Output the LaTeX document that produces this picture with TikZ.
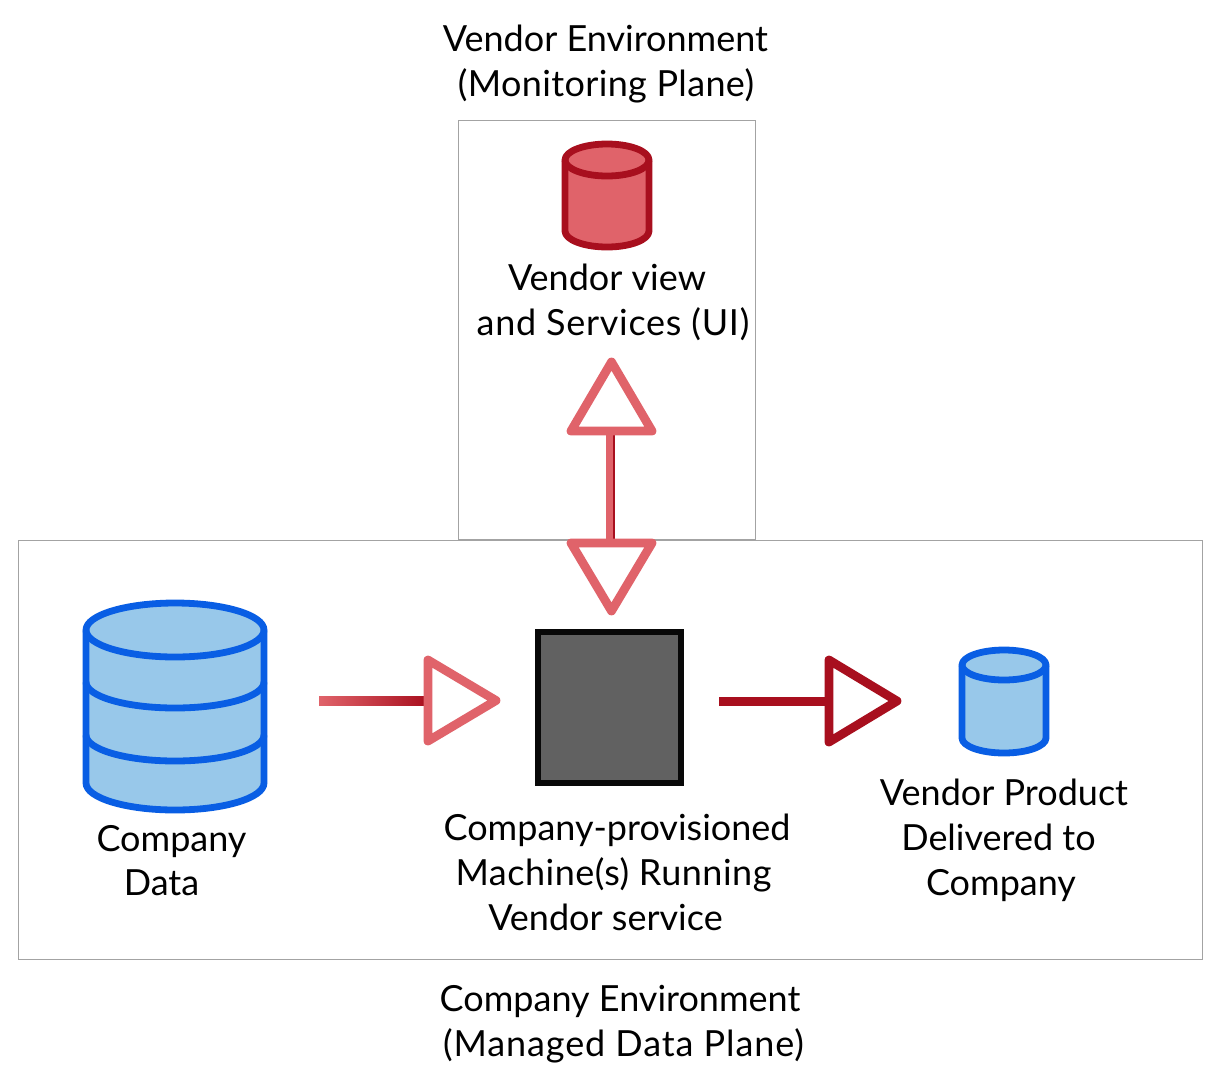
\documentclass[tikz,border=0pt]{standalone}
\usepackage{fontspec}
\setmainfont{Lato}
\definecolor{redlight}{HTML}{E0636A}
\definecolor{reddark}{HTML}{A80F1E}
\definecolor{bluefill}{HTML}{98C8EA}
\definecolor{blueline}{HTML}{095EE4}
\definecolor{framegray}{HTML}{A3A3A3}
\definecolor{machinefill}{HTML}{616161}
\newcommand{\spaced}[2]{{\addfontfeature{LetterSpace=#1}#2}}
\tikzset{
  x=0.5pt,y=-0.5pt,
  frame/.style={draw=framegray,line width=0.5pt},
  lbl/.style={anchor=base,inner sep=0pt,font=\fontsize{18}{22}\selectfont},
  bluecyl/.style={draw=blueline,fill=bluefill,line width=3.4pt,line join=round},
  redcyl/.style={draw=reddark,fill=redlight,line width=3.4pt,line join=round},
  headlight/.style={draw=redlight,fill=white,line width=4.4pt,line join=round},
  headdark/.style={draw=reddark,fill=white,line width=4.4pt,line join=round},
  machine/.style={draw=black!97,fill=machinefill,line width=3pt,minimum width=71.5pt,minimum height=75.5pt,inner sep=0pt}
}
% #1 centre x, #2 rx, #3 top-ellipse y, #4 bottom-ellipse y, #5 ry
\newcommand{\cyl}[6]{%
  \path[#6] (#1-#2,#3) arc[start angle=180,end angle=0,x radius=#2*0.5pt,y radius=#5*0.5pt]
    -- (#1+#2,#4) arc[start angle=0,end angle=-180,x radius=#2*0.5pt,y radius=#5*0.5pt] -- cycle;
  \draw[#6,fill=none] (#1-#2,#3) arc[start angle=180,end angle=360,x radius=#2*0.5pt,y radius=#5*0.5pt];
}
\begin{document}
\begin{tikzpicture}
\useasboundingbox (0,0) rectangle (1222,1078);
\fill[white] (0,0) rectangle (1222,1078);
\node[frame,minimum width=148.5pt,minimum height=209.5pt,inner sep=0pt] (vendorbox) at (607,330) {};
\node[frame,minimum width=592pt,minimum height=209.5pt,inner sep=0pt] (companybox) at (610.5,750) {};

% cylinders
\cyl{175}{89}{630}{783}{27}{bluecyl}
\draw[bluecyl,fill=none] (86,682) arc[start angle=180,end angle=360,x radius=44.5pt,y radius=13pt];
\draw[bluecyl,fill=none] (86,735) arc[start angle=180,end angle=360,x radius=44.5pt,y radius=13pt];
\cyl{1004}{42}{665}{738}{15}{bluecyl}
\cyl{607}{42}{160}{231}{16}{redcyl}

% machine
\node[machine] (machine) at (609.5,707.5) {};

% connectors
\shade[left color=redlight,right color=reddark] (319,696.5) rectangle (428,705);
\fill[reddark] (719,697) rectangle (829,706);
\fill[reddark] (606,431) rectangle (615,543);
\fill[redlight] (606,431) rectangle (612.5,543);

% arrow heads
\draw[headlight] (611.5,362) -- (571,431) -- (652,431) -- cycle;
\draw[headlight] (611.5,611) -- (571,543) -- (652,543) -- cycle;
\draw[headlight] (428,660) -- (496,700.5) -- (428,741) -- cycle;
\draw[headdark] (829,660) -- (897,701) -- (829,742) -- cycle;

% labels
\node[lbl] (t1) at (605.5,51) {Vendor Environment};
\node[lbl] (t2) at (606,96) {\spaced{1}{(Monitoring Plane)}};
\node[lbl] (t3) at (607,290) {Vendor view};
\node[lbl] (t4) at (613,335) {\spaced{2}{and Services (UI)}};
\node[lbl] (t5) at (171.5,851) {Company};
\node[lbl] (t6) at (161.5,895) {Data};
\node[lbl] (t7) at (617,840) {Company-provisioned};
\node[lbl] (t8) at (613.5,885) {\spaced{1.4}{Machine(s) Running}};
\node[lbl] (t9) at (605.5,930) {Vendor service};
\node[lbl] (t10) at (1004,805) {Vendor Product};
\node[lbl] (t11) at (998.5,850) {Delivered to};
\node[lbl] (t12) at (1001,895) {Company};
\node[lbl] (t13) at (620,1011) {Company Environment};
\node[lbl] (t14) at (623.5,1056) {\spaced{2.5}{(Managed Data Plane)}};
\end{tikzpicture}
\end{document}
